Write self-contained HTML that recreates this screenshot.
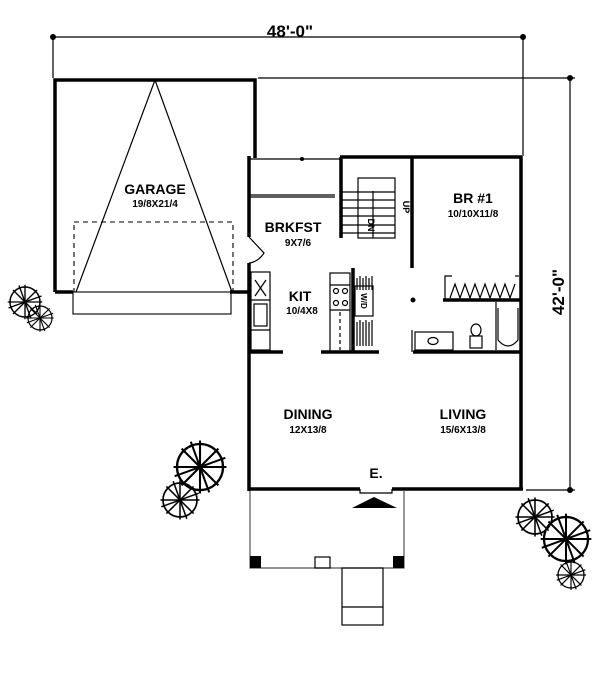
<!DOCTYPE html>
<html><head><meta charset="utf-8"><style>
html,body{margin:0;padding:0;background:#fff;}
svg{display:block;}
text{font-family:"Liberation Sans",Arial,sans-serif;font-weight:bold;fill:#000;}
</style></head><body>
<svg width="600" height="679" viewBox="0 0 600 679" xmlns="http://www.w3.org/2000/svg">
<defs>
<g id="tree">
<circle r="1" fill="none" stroke="#000" stroke-width="0.1"/>
<g stroke="#000" stroke-width="0.09">
<line x1="-1.15" y1="0" x2="1.15" y2="0"/><line x1="0" y1="-1.15" x2="0" y2="1.15"/>
<line x1="-0.8" y1="-0.8" x2="0.8" y2="0.8"/><line x1="-0.8" y1="0.8" x2="0.8" y2="-0.8"/>
<line x1="-0.4" y1="-1.1" x2="0.4" y2="1.1"/><line x1="-1.1" y1="0.4" x2="1.1" y2="-0.4"/>
</g>
</g>
</defs>
<!-- dimensions -->
<g stroke="#000" stroke-width="1.2" fill="none">
<line x1="52" y1="37" x2="525" y2="37"/>
<line x1="53" y1="37" x2="53" y2="78"/>
<line x1="523" y1="37" x2="523" y2="156"/>
<line x1="258" y1="78" x2="575" y2="78"/>
<line x1="570" y1="78" x2="570" y2="490"/>
<line x1="526" y1="490" x2="575" y2="490"/>
</g>
<g fill="#000"><circle cx="53" cy="37" r="3"/><circle cx="523" cy="37" r="3"/><circle cx="570" cy="78" r="3"/><circle cx="570" cy="490" r="3"/></g>
<text x="290" y="37" font-size="17" text-anchor="middle">48'-0"</text>
<text x="0" y="0" font-size="17" text-anchor="middle" transform="translate(564,292) rotate(-90)">42'-0"</text>

<!-- garage -->
<g stroke="#000" fill="none">
<path d="M55 292 V80 H255 V158" stroke-width="3.5"/>
<line x1="55" y1="292" x2="73" y2="292" stroke-width="3.5"/>
<line x1="230" y1="292" x2="250" y2="292" stroke-width="3.5"/>
<path d="M155 80 L76 292 M155 80 L232 292" stroke-width="1.2"/>
<rect x="74" y="222" width="159" height="70" stroke-dasharray="5,4" stroke-width="1.1"/>
<rect x="73" y="292" width="158" height="22" stroke-width="1.1"/>
</g>
<text x="155" y="194" font-size="14" text-anchor="middle">GARAGE</text>
<text x="155" y="207" font-size="10" text-anchor="middle">19/8X21/4</text>

<!-- house walls -->
<g stroke="#000" fill="none" stroke-width="3.5">
<line x1="340" y1="157" x2="522" y2="157"/>
<line x1="521" y1="156" x2="521" y2="490"/>
<line x1="249" y1="156" x2="249" y2="237"/>
<line x1="249" y1="263" x2="249" y2="491"/>
<line x1="248" y1="489" x2="360" y2="489"/>
<line x1="392" y1="489" x2="523" y2="489"/>
<line x1="341" y1="157" x2="341" y2="238"/>
<line x1="412" y1="156" x2="412" y2="268"/>
<line x1="249" y1="352" x2="283" y2="352"/>
<line x1="321" y1="352" x2="379" y2="352"/>
<line x1="413" y1="352" x2="522" y2="352"/>
<line x1="443" y1="300" x2="520" y2="300"/>
<line x1="353" y1="268" x2="353" y2="352"/>
</g>
<g stroke="#000" fill="none" stroke-width="1.2">
<line x1="250" y1="159" x2="340" y2="159"/>
<line x1="250" y1="197" x2="335" y2="197"/>
<line x1="250" y1="195" x2="335" y2="195"/>
<!-- door -->
<path d="M249 237 L264 253 Q258 262 249 263"/>
<!-- stairs -->
<rect x="358" y="178" width="37" height="60"/>
<line x1="373" y1="191" x2="373" y2="238"/>
<g>
<line x1="342" y1="192" x2="395" y2="192"/><line x1="342" y1="200" x2="395" y2="200"/>
<line x1="342" y1="208" x2="373" y2="208"/><line x1="342" y1="216" x2="373" y2="216"/>
<line x1="342" y1="225" x2="373" y2="225"/><line x1="342" y1="233" x2="373" y2="233"/>
<line x1="373" y1="208" x2="395" y2="208"/><line x1="373" y1="216" x2="395" y2="216"/>
<line x1="373" y1="225" x2="395" y2="225"/><line x1="373" y1="233" x2="395" y2="233"/>
</g>
<!-- kitchen left counter -->
<rect x="251" y="272" width="19" height="78"/>
<line x1="251" y1="300" x2="270" y2="300"/><line x1="251" y1="330" x2="270" y2="330"/>
<path d="M255 280 L266 296 M266 280 L255 296"/>
<rect x="254" y="304" width="13" height="22"/>
<!-- range column -->
<rect x="330" y="273" width="20" height="79"/>
<line x1="330" y1="285" x2="350" y2="285"/><line x1="330" y1="310" x2="350" y2="310"/>
<circle cx="336" cy="291" r="2.5"/><circle cx="345" cy="291" r="2.5"/>
<circle cx="336" cy="303" r="2.5"/><circle cx="345" cy="303" r="2.5"/>
<line x1="340" y1="312" x2="340" y2="350" stroke-dasharray="4,3"/>
<!-- W/D closet -->
<rect x="355" y="286" width="18" height="30"/>
<path d="M357 278 V290 M360 276 V290 M363 278 V290 M366 276 V290 M369 278 V290 M372 276 V290" />
<path d="M357 322 V346 M360 320 V346 M363 322 V346 M366 320 V346 M369 322 V346 M372 320 V346"/>
<!-- closet br -->
<path d="M445 300 V276 H452"/>
<path d="M450 298 L455 284 L460 298 L465 284 L470 298 L475 284 L480 298 L485 284 L490 298 L495 284 L500 298 L505 284 L510 298 L515 284"/>
<line x1="515" y1="276" x2="519" y2="276"/>
<!-- bath -->
<line x1="412" y1="330" x2="412" y2="352"/>
<rect x="415" y="332" width="38" height="18"/>
<ellipse cx="433" cy="341" rx="5" ry="3.5"/>
<ellipse cx="476" cy="330" rx="5" ry="6"/>
<rect x="470" y="336" width="12" height="12"/>
<line x1="496" y1="302" x2="496" y2="350"/>
<path d="M498 308 V340 Q508 352 518 340 V308"/>
<!-- porch -->
<path d="M250 491 V568 H404 V491" stroke="#555"/>
<rect x="315" y="557" width="15" height="11"/>
<rect x="342" y="568" width="41" height="57"/>
<line x1="342" y1="607" x2="383" y2="607"/>
<path d="M360 489 V493 H392 V489"/>
</g>
<rect x="250" y="556" width="11" height="12" fill="#000"/>
<rect x="393" y="556" width="11" height="12" fill="#000"/>
<polygon points="352,508 374,497 397,508" fill="#000"/>
<circle cx="302" cy="159" r="2" fill="#000"/>
<circle cx="413" cy="300" r="2.5" fill="#000"/>

<text x="0" y="0" font-size="9" text-anchor="middle" transform="translate(403,207) rotate(90)">UP</text>
<text x="0" y="0" font-size="9" text-anchor="middle" transform="translate(368,225) rotate(90)">DN</text>
<text x="0" y="0" font-size="8" text-anchor="middle" transform="translate(361,301) rotate(90)">W/D</text>

<text x="293" y="232" font-size="14" text-anchor="middle">BRKFST</text>
<text x="298" y="246" font-size="10" text-anchor="middle">9X7/6</text>
<text x="300" y="301" font-size="14" text-anchor="middle">KIT</text>
<text x="302" y="314" font-size="10" text-anchor="middle">10/4X8</text>
<text x="473" y="203" font-size="14" text-anchor="middle">BR #1</text>
<text x="473" y="217" font-size="10" text-anchor="middle">10/10X11/8</text>
<text x="308" y="419" font-size="14" text-anchor="middle">DINING</text>
<text x="308" y="433" font-size="10" text-anchor="middle">12X13/8</text>
<text x="463" y="419" font-size="14" text-anchor="middle">LIVING</text>
<text x="463" y="433" font-size="10" text-anchor="middle">15/6X13/8</text>
<text x="376" y="478" font-size="14" text-anchor="middle">E.</text>

<!-- trees -->
<use href="#tree" transform="translate(25,302) scale(15)"/>
<use href="#tree" transform="translate(40,318) scale(12)"/>
<use href="#tree" transform="translate(200,467) scale(23)"/>
<use href="#tree" transform="translate(180,500) scale(17)"/>
<use href="#tree" transform="translate(535,517) scale(17)"/>
<use href="#tree" transform="translate(566,539) scale(22)"/>
<use href="#tree" transform="translate(571,575) scale(13)"/>
</svg>
</body></html>
